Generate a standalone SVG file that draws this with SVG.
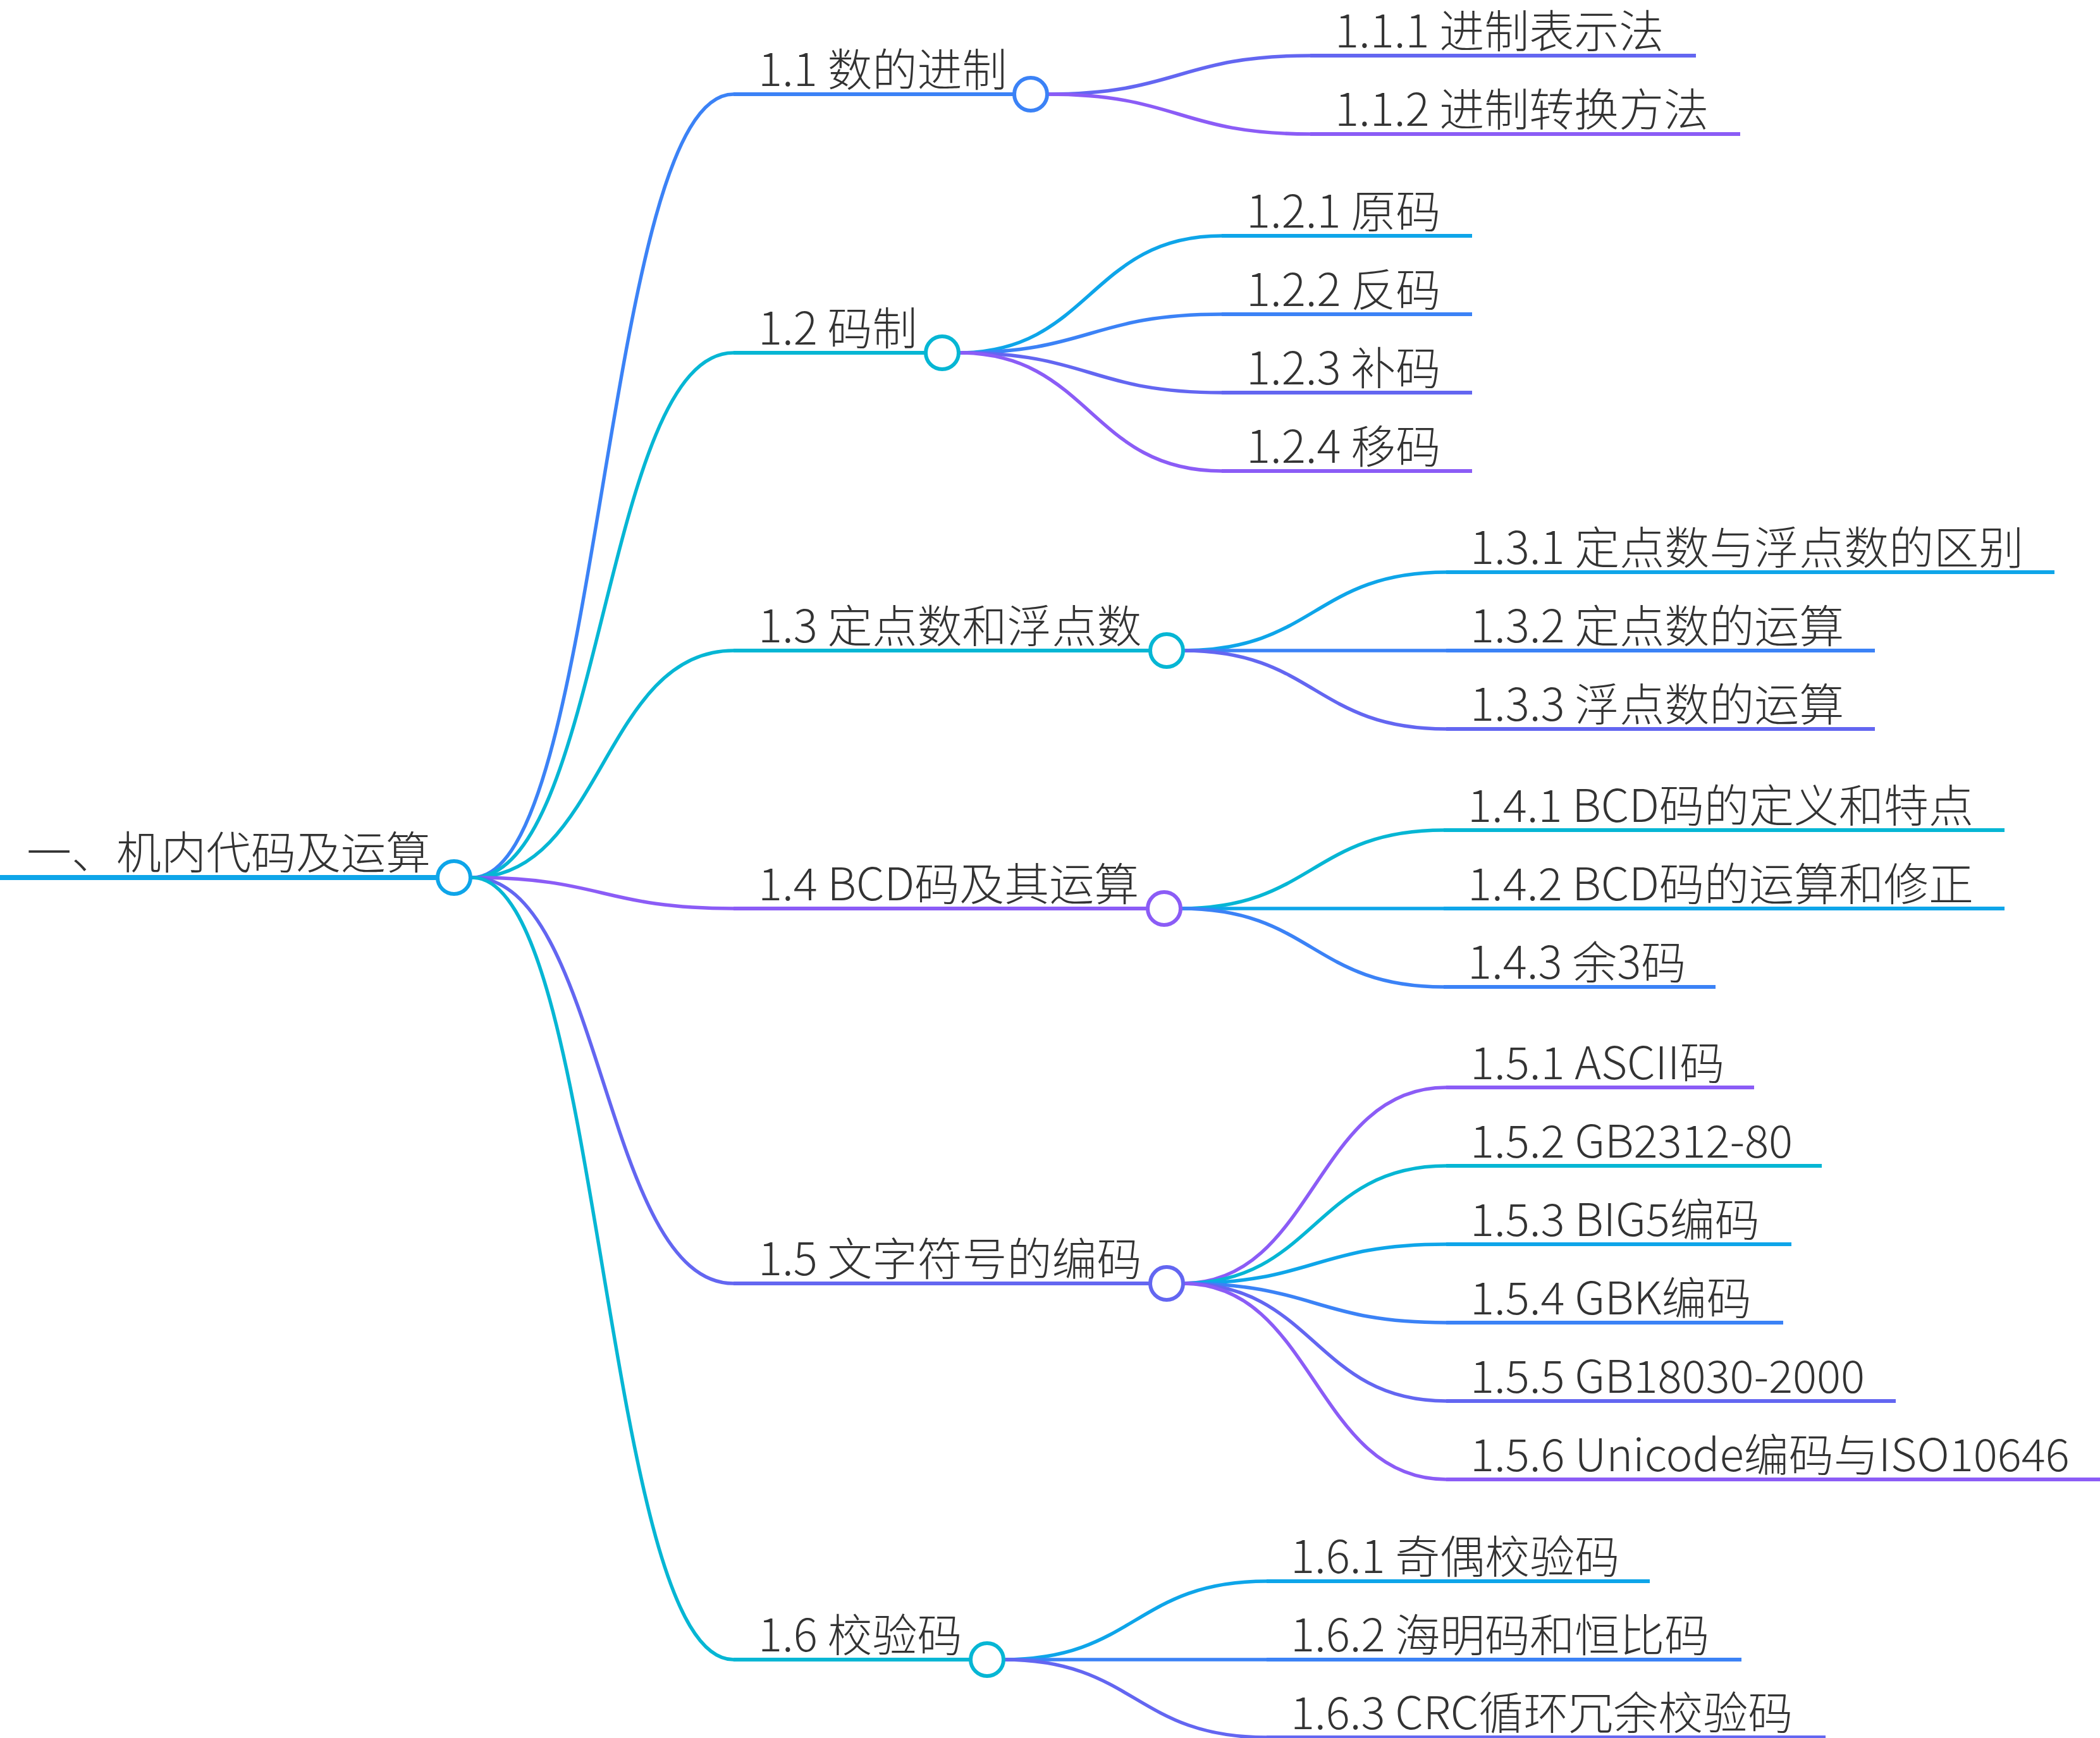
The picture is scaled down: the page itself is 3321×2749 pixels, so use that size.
<svg xmlns="http://www.w3.org/2000/svg" width="3321" height="2749" viewBox="0 0 3321 2749">
<style>
text{font-family:"Noto Sans CJK SC","Noto Sans",sans-serif;font-size:71px;font-weight:300;fill:#333333;}
.c{fill:none;stroke-width:5.5;stroke-linecap:round;}
.l{fill:none;stroke-width:6;}
.n{fill:#ffffff;stroke-width:6;}
.sky{stroke:#0ea5e9;}
.blue{stroke:#3b82f6;}
.cyan{stroke:#06b6d4;}
.ind{stroke:#6366f1;}
.pur{stroke:#8b5cf6;}
</style>
<rect width="3321" height="2749" fill="#ffffff"/>
<g id="connectors">
<path class="c blue" d="M747,1388 C953,1388 953,149 1160,149"/>
<path class="c cyan" d="M747,1388 C953,1388 953,558 1160,558"/>
<path class="c cyan" d="M747,1388 C953,1388 953,1029 1160,1029"/>
<path class="c pur" d="M747,1388 C953,1388 953,1437 1160,1437"/>
<path class="c ind" d="M747,1388 C953,1388 953,2030 1160,2030"/>
<path class="c cyan" d="M747,1388 C953,1388 953,2625 1160,2625"/>
<path class="c ind" d="M1656,149 C1864,149 1864,88 2072,88"/>
<path class="c pur" d="M1656,149 C1864,149 1864,212 2072,212"/>
<path class="c sky" d="M1516,558 C1724,558 1724,373 1932,373"/>
<path class="c blue" d="M1516,558 C1724,558 1724,497 1932,497"/>
<path class="c ind" d="M1516,558 C1724,558 1724,621 1932,621"/>
<path class="c pur" d="M1516,558 C1724,558 1724,745 1932,745"/>
<path class="c sky" d="M1871,1029 C2079,1029 2079,905 2287,905"/>
<path class="c blue" d="M1871,1029 C2079,1029 2079,1029 2287,1029"/>
<path class="c ind" d="M1871,1029 C2079,1029 2079,1153 2287,1153"/>
<path class="c cyan" d="M1867,1437 C2075,1437 2075,1313 2283,1313"/>
<path class="c sky" d="M1867,1437 C2075,1437 2075,1437 2283,1437"/>
<path class="c blue" d="M1867,1437 C2075,1437 2075,1561 2283,1561"/>
<path class="c pur" d="M1871,2030 C2079,2030 2079,1720 2287,1720"/>
<path class="c cyan" d="M1871,2030 C2079,2030 2079,1844 2287,1844"/>
<path class="c sky" d="M1871,2030 C2079,2030 2079,1968 2287,1968"/>
<path class="c blue" d="M1871,2030 C2079,2030 2079,2092 2287,2092"/>
<path class="c ind" d="M1871,2030 C2079,2030 2079,2216 2287,2216"/>
<path class="c pur" d="M1871,2030 C2079,2030 2079,2340 2287,2340"/>
<path class="c sky" d="M1587,2625 C1795,2625 1795,2501 2003,2501"/>
<path class="c blue" d="M1587,2625 C1795,2625 1795,2625 2003,2625"/>
<path class="c ind" d="M1587,2625 C1795,2625 1795,2748 2003,2748"/>
</g>
<g id="root">
<line class="l sky" x1="0" y1="1388" x2="692" y2="1388" style="stroke-width:8"/>
<circle class="n sky" cx="718" cy="1388" r="26"/>
<text x="42" y="1374">一、机内代码及运算</text>
</g>
<g id="n1-1">
<line class="l blue" x1="1160" y1="149" x2="1604" y2="149"/>
<circle class="n blue" cx="1630" cy="149" r="26"/>
<text x="1199" y="136">1.1 数的进制</text>
</g>
<g id="n1-1-1"><line class="l ind" x1="2072" y1="88" x2="2682" y2="88"/><text x="2111" y="75">1.1.1 进制表示法</text></g>
<g id="n1-1-2"><line class="l pur" x1="2072" y1="212" x2="2752" y2="212"/><text x="2111" y="199">1.1.2 进制转换方法</text></g>
<g id="n1-2">
<line class="l cyan" x1="1160" y1="558" x2="1464" y2="558"/>
<circle class="n cyan" cx="1490" cy="558" r="26"/>
<text x="1199" y="545">1.2 码制</text>
</g>
<g id="n1-2-1"><line class="l sky" x1="1932" y1="373" x2="2328" y2="373"/><text x="1971" y="360">1.2.1 原码</text></g>
<g id="n1-2-2"><line class="l blue" x1="1932" y1="497" x2="2328" y2="497"/><text x="1971" y="484">1.2.2 反码</text></g>
<g id="n1-2-3"><line class="l ind" x1="1932" y1="621" x2="2328" y2="621"/><text x="1971" y="608">1.2.3 补码</text></g>
<g id="n1-2-4"><line class="l pur" x1="1932" y1="745" x2="2328" y2="745"/><text x="1971" y="732">1.2.4 移码</text></g>
<g id="n1-3">
<line class="l cyan" x1="1160" y1="1029" x2="1819" y2="1029"/>
<circle class="n cyan" cx="1845" cy="1029" r="26"/>
<text x="1199" y="1016">1.3 定点数和浮点数</text>
</g>
<g id="n1-3-1"><line class="l sky" x1="2287" y1="905" x2="3249" y2="905"/><text x="2325" y="892">1.3.1 定点数与浮点数的区别</text></g>
<g id="n1-3-2"><line class="l blue" x1="2287" y1="1029" x2="2965" y2="1029"/><text x="2325" y="1016">1.3.2 定点数的运算</text></g>
<g id="n1-3-3"><line class="l ind" x1="2287" y1="1153" x2="2965" y2="1153"/><text x="2325" y="1140">1.3.3 浮点数的运算</text></g>
<g id="n1-4">
<line class="l pur" x1="1160" y1="1437" x2="1815" y2="1437"/>
<circle class="n pur" cx="1841" cy="1437" r="26"/>
<text x="1199" y="1424">1.4 BCD码及其运算</text>
</g>
<g id="n1-4-1"><line class="l cyan" x1="2283" y1="1313" x2="3170" y2="1313"/><text x="2321" y="1300">1.4.1 BCD码的定义和特点</text></g>
<g id="n1-4-2"><line class="l sky" x1="2283" y1="1437" x2="3170" y2="1437"/><text x="2321" y="1424">1.4.2 BCD码的运算和修正</text></g>
<g id="n1-4-3"><line class="l blue" x1="2283" y1="1561" x2="2713" y2="1561"/><text x="2321" y="1548">1.4.3 余3码</text></g>
<g id="n1-5">
<line class="l ind" x1="1160" y1="2030" x2="1819" y2="2030"/>
<circle class="n ind" cx="1845" cy="2030" r="26"/>
<text x="1199" y="2017">1.5 文字符号的编码</text>
</g>
<g id="n1-5-1"><line class="l pur" x1="2287" y1="1720" x2="2774" y2="1720"/><text x="2325" y="1707">1.5.1 ASCII码</text></g>
<g id="n1-5-2"><line class="l cyan" x1="2287" y1="1844" x2="2881" y2="1844"/><text x="2325" y="1831">1.5.2 GB2312-80</text></g>
<g id="n1-5-3"><line class="l sky" x1="2287" y1="1968" x2="2833" y2="1968"/><text x="2325" y="1955">1.5.3 BIG5编码</text></g>
<g id="n1-5-4"><line class="l blue" x1="2287" y1="2092" x2="2820" y2="2092"/><text x="2325" y="2079">1.5.4 GBK编码</text></g>
<g id="n1-5-5"><line class="l ind" x1="2287" y1="2216" x2="2998" y2="2216"/><text x="2325" y="2203">1.5.5 GB18030-2000</text></g>
<g id="n1-5-6"><line class="l pur" x1="2287" y1="2340" x2="3321" y2="2340"/><text x="2325" y="2327">1.5.6 Unicode编码与ISO10646</text></g>
<g id="n1-6">
<line class="l cyan" x1="1160" y1="2625" x2="1535" y2="2625"/>
<circle class="n cyan" cx="1561" cy="2625" r="26"/>
<text x="1199" y="2612">1.6 校验码</text>
</g>
<g id="n1-6-1"><line class="l sky" x1="2003" y1="2501" x2="2609" y2="2501"/><text x="2041" y="2488">1.6.1 奇偶校验码</text></g>
<g id="n1-6-2"><line class="l blue" x1="2003" y1="2625" x2="2754" y2="2625"/><text x="2041" y="2612">1.6.2 海明码和恒比码</text></g>
<g id="n1-6-3"><line class="l ind" x1="2003" y1="2748" x2="2887" y2="2748"/><text x="2041" y="2735">1.6.3 CRC循环冗余校验码</text></g>
</svg>
